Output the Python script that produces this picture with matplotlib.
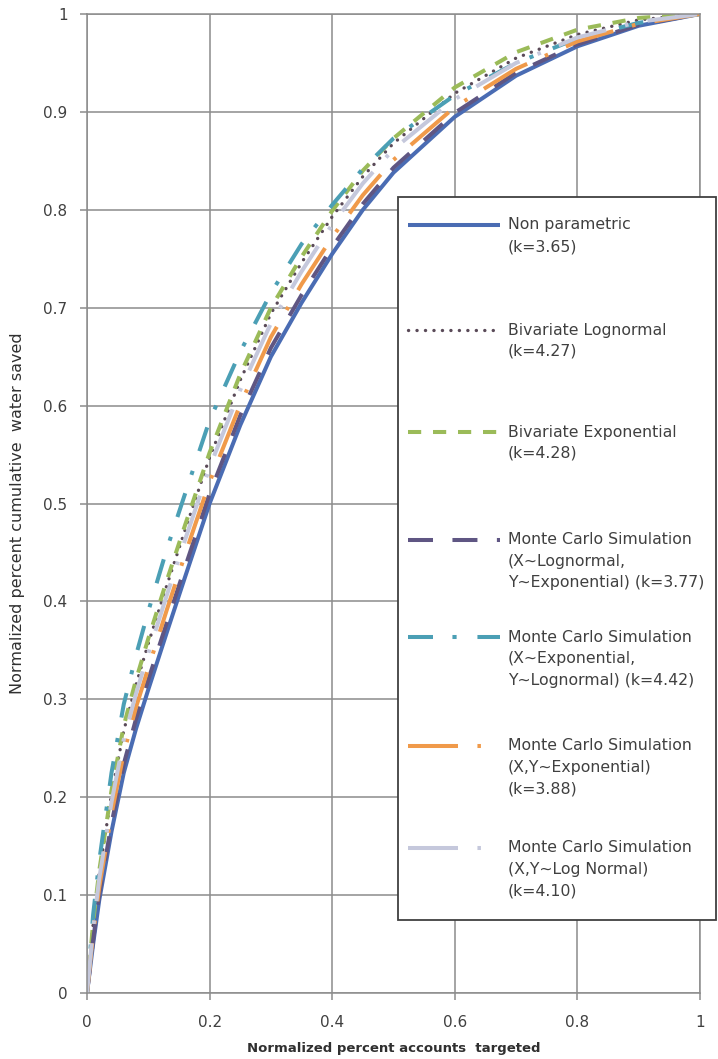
import matplotlib
matplotlib.use("Agg")
import matplotlib.pyplot as plt
from matplotlib.patches import Rectangle
from matplotlib.lines import Line2D

plt.rcParams['lines.scale_dashes'] = False
plt.rcParams['font.family'] = ['DejaVu Sans']

# ---------------- data ----------------
x_vals = [0, 0.01, 0.02, 0.04, 0.06, 0.08, 0.10, 0.13, 0.16, 0.20, 0.25,
          0.30, 0.35, 0.40, 0.45, 0.50, 0.60, 0.70, 0.80, 0.90, 1.00]

non_parametric = [0, 0.050, 0.095, 0.165, 0.225, 0.270, 0.310, 0.368, 0.425, 0.500, 0.580,
                  0.650, 0.705, 0.755, 0.800, 0.838, 0.895, 0.937, 0.967, 0.988, 1.0]
biv_lognormal = [0, 0.070, 0.123, 0.203, 0.268, 0.315, 0.357, 0.416, 0.473, 0.547, 0.626,
                 0.694, 0.746, 0.793, 0.834, 0.868, 0.919, 0.955, 0.979, 0.994, 1.0]
biv_exponential = [0, 0.072, 0.125, 0.207, 0.273, 0.320, 0.362, 0.421, 0.478, 0.552, 0.632,
                   0.700, 0.752, 0.799, 0.840, 0.873, 0.925, 0.961, 0.984, 0.996, 1.0]
mc_ln_exp = [0, 0.054, 0.101, 0.173, 0.234, 0.280, 0.320, 0.378, 0.435, 0.510, 0.590,
             0.659, 0.713, 0.762, 0.806, 0.843, 0.899, 0.940, 0.969, 0.989, 1.0]
mc_exp_ln = [0, 0.080, 0.135, 0.225, 0.295, 0.345, 0.390, 0.453, 0.510, 0.585, 0.655,
             0.715, 0.765, 0.805, 0.842, 0.873, 0.917, 0.950, 0.975, 0.991, 1.0]
mc_exp_exp = [0, 0.060, 0.108, 0.183, 0.245, 0.292, 0.332, 0.391, 0.448, 0.522, 0.601,
              0.670, 0.724, 0.772, 0.815, 0.851, 0.905, 0.944, 0.972, 0.990, 1.0]
mc_ln_ln = [0, 0.066, 0.117, 0.195, 0.259, 0.306, 0.347, 0.406, 0.463, 0.537, 0.616,
            0.684, 0.737, 0.785, 0.827, 0.862, 0.913, 0.950, 0.976, 0.992, 1.0]

series_labels = [
    ["Non parametric", "(k=3.65)"],
    ["Bivariate Lognormal", "(k=4.27)"],
    ["Bivariate Exponential", "(k=4.28)"],
    ["Monte Carlo Simulation", "(X~Lognormal,", "Y~Exponential) (k=3.77)"],
    ["Monte Carlo Simulation", "(X~Exponential,", "Y~Lognormal) (k=4.42)"],
    ["Monte Carlo Simulation", "(X,Y~Exponential)", "(k=3.88)"],
    ["Monte Carlo Simulation", "(X,Y~Log Normal)", "(k=4.10)"],
]
x_ticks = [0, 0.2, 0.4, 0.6, 0.8, 1]
x_tick_labels = ["0", "0.2", "0.4", "0.6", "0.8", "1"]
y_ticks = [0, 0.1, 0.2, 0.3, 0.4, 0.5, 0.6, 0.7, 0.8, 0.9, 1]
y_tick_labels = ["0", "0.1", "0.2", "0.3", "0.4", "0.5", "0.6", "0.7", "0.8", "0.9", "1"]
x_label = "Normalized percent accounts  targeted"
y_label = "Normalized percent cumulative  water saved"

# ---------------- styles ----------------
series_data = [non_parametric, biv_lognormal, biv_exponential, mc_ln_exp,
               mc_exp_ln, mc_exp_exp, mc_ln_ln]
styles = [
    dict(color='#4a6cb3', lw=2.9, ls='-'),
    dict(color='#5a4a58', lw=2.4, ls=(0, (0.1, 6.0)), dash_capstyle='round'),
    dict(color='#9bbb59', lw=2.9, ls=(0, (9.5, 8.5))),
    dict(color='#5f5683', lw=2.9, ls=(0, (18, 14))),
    dict(color='#4b9fb5', lw=2.9, ls=(0, (18, 14, 3, 15))),
    dict(color='#f09a4a', lw=2.9, ls=(0, (36, 14, 2.5, 14))),
    dict(color='#c5c8dc', lw=2.9, ls=(0, (36, 14, 2.5, 14))),
]

W, H = 718, 1059
fig = plt.figure(figsize=(W / 100, H / 100), dpi=100)
fig.patch.set_facecolor('white')

L, R, T, B = 87, 700, 14, 993
ax = fig.add_axes([L / W, 1 - B / H, (R - L) / W, (B - T) / H])
grid_c = '#8c8c8c'
for y, st in zip(series_data, styles):
    ax.plot(x_vals, y, solid_capstyle='butt', **st)

ax.set_xlim(0, 1)
ax.set_ylim(0, 1)
ax.set_xticks(x_ticks)
ax.set_xticklabels(x_tick_labels)
ax.set_yticks(y_ticks)
ax.set_yticklabels(y_tick_labels)
ax.grid(True, color=grid_c, lw=1.1)
ax.set_axisbelow(True)
for s in ax.spines.values():
    s.set_color(grid_c)
    s.set_linewidth(1.1)
ax.tick_params(axis='both', colors=grid_c, length=5, width=1.1, labelcolor='#404040',
               labelsize=11)
ax.tick_params(axis='y', pad=9)
ax.tick_params(axis='x', pad=11)
ax.set_xlabel(x_label, fontsize=9.5, fontweight='bold', color='#303030')
ax.xaxis.set_label_coords(0.5, -0.05)
ax.set_ylabel(y_label, fontsize=11.5, color='#303030')
ax.yaxis.set_label_coords(-0.101, 0.49)

# ---------------- legend (drawn in pixel coordinates) ----------------
lax = fig.add_axes([0, 0, 1, 1], zorder=10)
lax.set_xlim(0, W)
lax.set_ylim(H, 0)
lax.axis('off')
lax.add_patch(Rectangle((398, 197), 318, 723, facecolor='white', edgecolor='#404040', lw=1.3))
entry_y = [225, 330, 432, 540, 637, 746, 848]
line_gap = 21.5
for st, lines, ey in zip(styles, series_labels, entry_y):
    lax.add_line(Line2D([408, 500], [ey, ey], solid_capstyle='butt', **st))
    for i, txt in enumerate(lines):
        lax.text(508, ey + i * line_gap, txt, fontsize=11.3, color='#404040',
                 va='center', ha='left')

fig.savefig('out.png', dpi=100)
